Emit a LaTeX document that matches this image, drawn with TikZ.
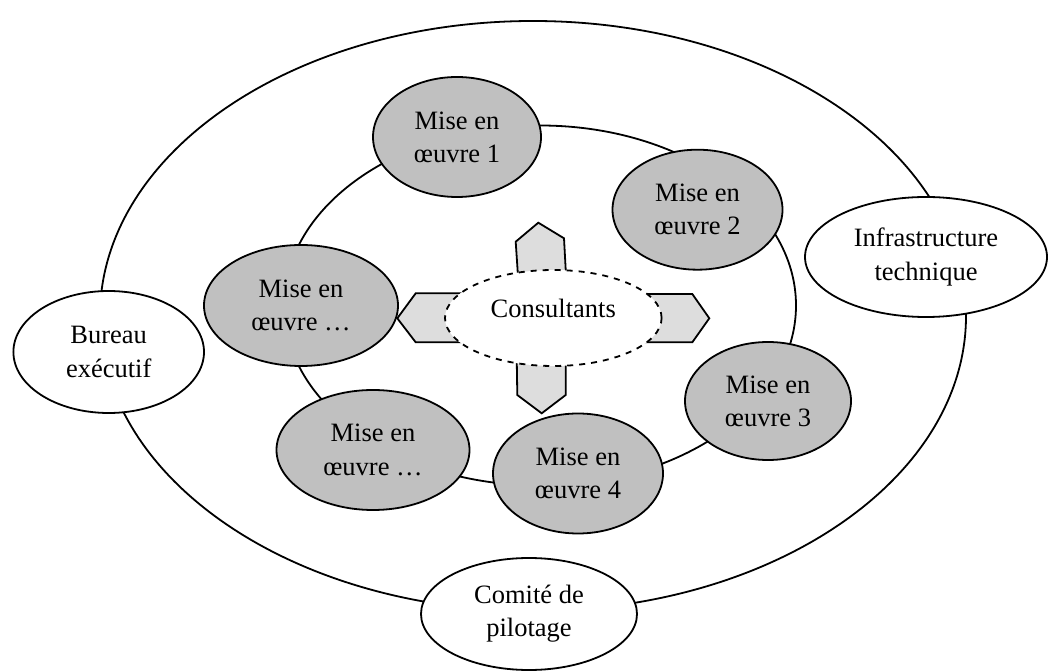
\documentclass[tikz,border=0pt]{standalone}
\usepackage{fontspec}
\setmainfont{Liberation Serif}
\usetikzlibrary{shapes.geometric}
\definecolor{phasegray}{HTML}{C0C0C0}
\definecolor{tabgray}{HTML}{DDDDDD}
\begin{document}
\begin{tikzpicture}[x=0.5pt,y=-0.5pt,line width=0.9pt,
  every node/.style={font=\fontsize{13.25pt}{16.6pt}\selectfont,align=center,inner sep=0pt},
  oval/.style={ellipse,draw,fill=white},
  phase/.style={ellipse,draw,fill=phasegray},
  tab/.style={draw,fill=tabgray,line join=miter}]
\useasboundingbox (0,0) rectangle (1048,672);

% outer and inner rings
\draw (533,316) ellipse [x radius=433,y radius=295];
\draw (540,305.5) ellipse [x radius=256,y radius=180];

% organisation bodies on the outer ring
\node[oval,minimum width=95.3pt,minimum height=61pt] (bureau) at (108.7,352) {Bureau\\exécutif};
\node[oval,minimum width=121pt,minimum height=60pt] (infra) at (926,257) {Infrastructure\\technique};
\node[oval,minimum width=108pt,minimum height=56pt] (comite) at (529,614) {Comité de\\pilotage};

% implementation phases on the inner ring
\node[phase,minimum width=84pt,minimum height=60pt] (m1) at (457,137) {Mise en\\œuvre 1};
\node[phase,minimum width=85pt,minimum height=60pt] (m2) at (697.5,209.7) {Mise en\\œuvre 2};
\node[phase,minimum width=83pt,minimum height=59pt] (m3) at (768,401) {Mise en\\œuvre 3};
\node[phase,minimum width=85pt,minimum height=60pt] (m4) at (578,473.5) {Mise en\\œuvre 4};
\node[phase,minimum width=97pt,minimum height=60.5pt] (ma) at (301,305.5) {Mise en\\œuvre …};
\node[phase,minimum width=96.5pt,minimum height=60pt] (mb) at (373,450) {Mise en\\œuvre …};

% pointing tabs around the consultants
\draw[tab] (518.9,290) -- (515.7,241.7) -- (538.3,222.7) -- (564,238.3) -- (566.8,290) -- cycle;
\draw[tab] (516.5,345) -- (517.3,395) -- (541.7,413.3) -- (565.7,395) -- (565.7,345) -- cycle;
\draw[tab] (470,293.3) -- (415.7,293.3) -- (397.3,318.3) -- (415.7,342.3) -- (470,342.3) -- cycle;
\draw[tab] (636,294) -- (692.3,294) -- (709.3,318.3) -- (692.3,342.3) -- (636,342.3) -- cycle;

% consultants at the centre
\node[ellipse,draw,dashed,fill=white,minimum width=108.3pt,minimum height=48pt,
  label={[yshift=5pt]center:Consultants}] (cons) at (553.3,318) {};
\end{tikzpicture}
\end{document}
